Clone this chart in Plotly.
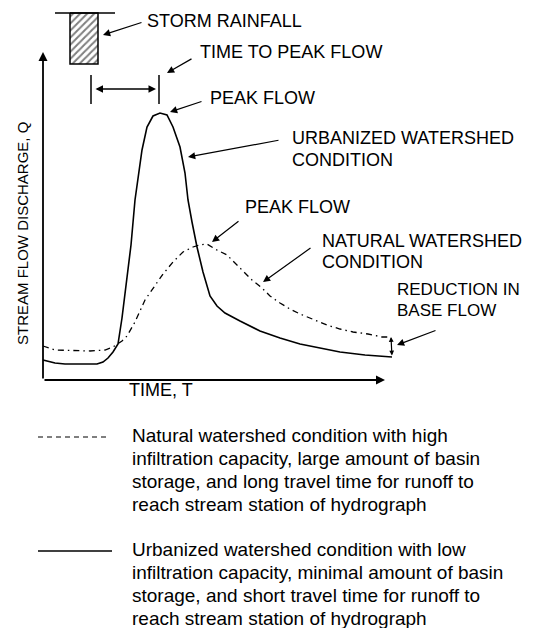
import plotly.graph_objects as go

# hydrograph sketch, time T and discharge Q in sketch units (origin at the axes corner)
urban_t = [0, 12, 22, 54, 60, 65, 70, 75, 79, 83, 88, 92, 96, 99, 104, 110, 117, 124, 130,
           137, 142, 145, 149, 154, 160, 167, 174, 182, 197, 217, 237, 257, 277, 297, 322, 349]
urban_q = [20, 17, 16, 16, 18, 22, 28, 36, 62, 93, 135, 180, 210, 230, 253, 264, 267, 265, 253,
           233, 207, 180, 158, 133, 108, 84, 74, 67, 59, 49, 42, 36, 32, 28, 25, 23]

natural_t = [0, 12, 47, 62, 70, 75, 79, 84, 92, 102, 112, 120, 130, 140, 150, 157, 164, 172,
             184, 192, 200, 209, 219, 227, 237, 247, 257, 270, 284, 297, 310, 325, 339, 347]
natural_q = [34, 30, 29, 30, 33, 36, 39, 44, 58, 80, 95, 106, 118, 128, 133, 135, 136, 131,
             125, 117, 108, 100, 92, 84, 77, 71, 66, 61, 55, 51, 48, 46, 43, 43]

# storm rainfall block
rain_line_t = [12, 72]
rain_top = 367
rain_t = [27, 55]
rain_depth = 51

# time to peak markers
lag_t = [48, 116]
lag_q = [276, 305]
lag_arrow_q = 291

# axis extents
t_max = 342
q_max = 328

# callout text lines and where they sit
label_text = ["STORM RAINFALL", "TIME TO PEAK FLOW", "PEAK FLOW",
              "URBANIZED WATERSHED", "CONDITION", "PEAK FLOW",
              "NATURAL WATERSHED", "CONDITION", "REDUCTION IN", "BASE FLOW", "TIME, T"]
label_t = [102, 155, 165, 247, 247, 200, 277, 277, 352, 352, 84]
label_q = [359, 328, 282, 242, 220, 173, 139, 118, 91, 70, -10]

# leader arrows: tail, tip
arrow_tail = [(100, 358), (150, 322), (160, 279), (237, 240), (197, 160), (269, 133), (394, 50)]
arrow_tip = [(60, 345), (124, 307), (127, 268), (145, 223), (169, 138), (220, 98), (354, 35)]

y_title = "STREAM FLOW DISCHARGE, Q"

legend_natural = ["Natural watershed condition with high",
                  "infiltration capacity, large amount of basin",
                  "storage, and long travel time for runoff to",
                  "reach stream station of hydrograph"]
legend_urban = ["Urbanized watershed condition with low",
                "infiltration capacity, minimal amount of basin",
                "storage, and short travel time for runoff to",
                "reach stream station of hydrograph"]
legend_key_q = [-57, -171]
legend_line_step = 23

FONT = "Liberation Sans, Arial, sans-serif"

fig = go.Figure()

fig.add_trace(go.Scatter(x=urban_t, y=urban_q, mode="lines",
                         line=dict(color="black", width=1.6), showlegend=False))
fig.add_trace(go.Scatter(x=natural_t, y=natural_q, mode="lines",
                         line=dict(color="black", width=1.3, dash="6px,4px,1.5px,4px"),
                         showlegend=False))

# rainfall
fig.add_trace(go.Scatter(
    x=[rain_t[0], rain_t[1], rain_t[1], rain_t[0], rain_t[0]],
    y=[rain_top, rain_top, rain_top - rain_depth, rain_top - rain_depth, rain_top],
    mode="lines", fill="toself", fillcolor="white",
    fillpattern=dict(shape="/", fgcolor="black", bgcolor="white", size=5, solidity=0.4),
    line=dict(color="black", width=1.5), showlegend=False))
fig.add_trace(go.Scatter(x=rain_line_t, y=[rain_top, rain_top], mode="lines",
                         line=dict(color="black", width=1.5), showlegend=False))

# time to peak bars
for t in lag_t:
    fig.add_trace(go.Scatter(x=[t, t], y=lag_q, mode="lines",
                             line=dict(color="black", width=1.5), showlegend=False))

annotations = []


def arrow(tail, tip, width=1.2, size=1.2, side="end"):
    annotations.append(dict(x=tip[0], y=tip[1], ax=tail[0], ay=tail[1], xref="x", yref="y",
                            axref="x", ayref="y", text="", showarrow=True, arrowhead=2,
                            arrowsize=size, arrowwidth=width, arrowcolor="black",
                            arrowside=side, standoff=0, startstandoff=0))


def label(txt, t, q, size):
    annotations.append(dict(x=t, y=q, xref="x", yref="y", text=txt, showarrow=False,
                            xanchor="left", yanchor="middle",
                            font=dict(family=FONT, size=size, color="black")))


# axes
arrow((0, 0), (0, q_max), width=1.8, size=1)
arrow((0, 0), (t_max, 0), width=1.8, size=1)

# time to peak double arrow
arrow((lag_t[0] + 3, lag_arrow_q), (lag_t[1] - 3, lag_arrow_q), width=1.5, size=1, side="end+start")

# reduction in base flow double arrow
arrow((urban_t[-1], urban_q[-1]), (natural_t[-1] + 1, natural_q[-1]), width=1.2, size=0.8,
      side="end+start")

for tail, tip in zip(arrow_tail, arrow_tip):
    arrow(tail, tip)

for txt, t, q in zip(label_text, label_t, label_q):
    label(txt, t, q, 17 if txt in ("REDUCTION IN", "BASE FLOW") else 18)

annotations.append(dict(x=-21, y=146, xref="x", yref="y", text=y_title,
                        showarrow=False, textangle=-90, xanchor="center", yanchor="middle",
                        font=dict(family=FONT, size=15, color="black")))

# legend keys
fig.add_trace(go.Scatter(x=[-5, 67], y=[legend_key_q[0]] * 2, mode="lines",
                         line=dict(color="black", width=1.2, dash="5px,4px"), showlegend=False))
fig.add_trace(go.Scatter(x=[-5, 69], y=[legend_key_q[1]] * 2, mode="lines",
                         line=dict(color="black", width=1.5), showlegend=False))
for lines, q0 in zip([legend_natural, legend_urban], legend_key_q):
    for i, txt in enumerate(lines):
        label(txt, 87, q0 + 2 - i * legend_line_step, 19)

fig.update_layout(
    width=542, height=620,
    margin=dict(l=0, r=0, t=0, b=0),
    paper_bgcolor="white", plot_bgcolor="white",
    annotations=annotations,
    xaxis=dict(range=[-35, 507], visible=False, fixedrange=True),
    yaxis=dict(range=[-248, 372], visible=False, fixedrange=True),
)

fig.write_html("out.html")
